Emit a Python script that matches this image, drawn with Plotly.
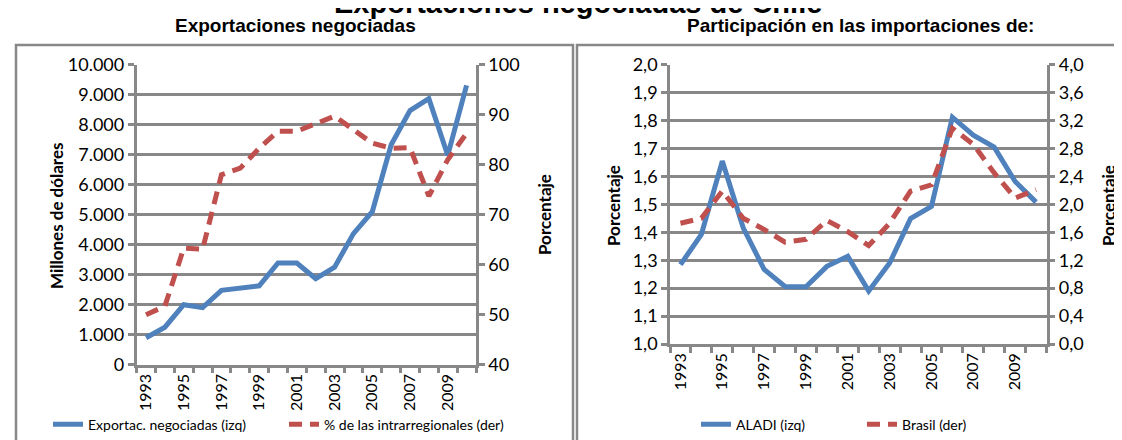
import plotly.graph_objects as go

years = list(range(1993, 2011))

# Left panel
exportaciones = [900, 1250, 2000, 1900, 2480, 2570, 2630, 3390, 3390, 2870,
                 3250, 4370, 5100, 7330, 8470, 8870, 6980, 9310]
pct_intra = [50.0, 51.7, 63.3, 63.1, 78.0, 79.3, 83.3, 86.7, 86.7, 88.3,
             89.7, 87.0, 84.3, 83.3, 83.4, 73.7, 81.0, 86.3]

# Right panel
aladi = [1.284, 1.392, 1.655, 1.416, 1.267, 1.206, 1.205, 1.278, 1.314, 1.190,
         1.290, 1.449, 1.493, 1.812, 1.748, 1.705, 1.582, 1.508]
brasil = [1.73, 1.80, 2.19, 1.80, 1.64, 1.46, 1.50, 1.77, 1.61, 1.41,
          1.73, 2.19, 2.28, 3.09, 2.86, 2.45, 2.09, 2.21]

W, H = 1122, 440
BLUE = "#4F81BD"
RED = "#C0504D"
GRID = "#888888"
SANS = "Lato, Open Sans, Liberation Sans, sans-serif"
ARIAL = "Liberation Sans, Arial, sans-serif"
YTICKFONT = dict(family=SANS, size=18, color="#000")
XTICKFONT = dict(family=SANS, size=16, color="#000")
LEGFONT = dict(family=SANS, size=14, color="#000")
AXTITLEFONT = dict(family=SANS, size=17, color="#000")

def px_x(p):
    return p / W

def px_y(p):
    return 1 - p / H

fig = go.Figure()

fig.add_trace(go.Scatter(x=years, y=exportaciones, name="Exportac. negociadas (izq)",
                         mode="lines", line=dict(color=BLUE, width=5),
                         xaxis="x", yaxis="y", legend="legend"))
fig.add_trace(go.Scatter(x=years, y=pct_intra, name="% de las intrarregionales (der)",
                         mode="lines", line=dict(color=RED, width=5, dash="13px,8px"),
                         xaxis="x", yaxis="y2", legend="legend"))
fig.add_trace(go.Scatter(x=years, y=aladi, name="ALADI (izq)",
                         mode="lines", line=dict(color=BLUE, width=5),
                         xaxis="x2", yaxis="y3", legend="legend2"))
fig.add_trace(go.Scatter(x=years, y=brasil, name="Brasil (der)",
                         mode="lines", line=dict(color=RED, width=5, dash="13px,8px"),
                         xaxis="x2", yaxis="y4", legend="legend2"))

boundaries = [y - 0.5 for y in years] + [years[-1] + 0.5]
xrange = [years[0] - 0.5, years[-1] + 0.5]
label_years = years[::2]
label_text = [str(y) for y in label_years]

def xaxis_cfg(domain, anchor):
    return dict(domain=domain, anchor=anchor, range=xrange, automargin=False,
                tickmode="array", tickvals=label_years, ticktext=label_text,
                tickangle=-90, ticks="", showgrid=False, zeroline=False,
                showline=True, linecolor=GRID, linewidth=2.5,
                tickfont=XTICKFONT,
                minor=dict(tickmode="array", tickvals=boundaries, ticks="outside",
                           ticklen=6, tickwidth=2.5, tickcolor=GRID, showgrid=False))

def yaxis_cfg(domain, anchor, rng, dtick, fmt, side="left", grid=True):
    return dict(domain=domain, anchor=anchor, range=rng, dtick=dtick, tick0=rng[0],
                automargin=False,
                tickformat=fmt, side=side, showgrid=grid, gridcolor=GRID, gridwidth=2.5,
                zeroline=False, showline=True, linecolor=GRID, linewidth=2.5,
                ticks="outside", ticklen=6, tickwidth=2.5, tickcolor=GRID,
                tickfont=YTICKFONT)

ldom_x = [px_x(128.6), px_x(468)]
ldom_y = [px_y(356.7), px_y(56.7)]
rdom_x = [px_x(662), px_x(1038.5)]
rdom_y = [px_y(336), px_y(56.7)]

def vtitle(text, xpx, ypx):
    return dict(text="<b>" + text + "</b>", xref="paper", yref="paper",
                x=px_x(xpx), y=px_y(ypx), xanchor="center", yanchor="middle",
                textangle=-90, showarrow=False, font=AXTITLEFONT)

layout = dict(
    width=W, height=H,
    margin=dict(l=0, r=0, t=0, b=0, autoexpand=False),
    paper_bgcolor="white", plot_bgcolor="white",
    separators=",.",
    showlegend=True,
    xaxis=xaxis_cfg(ldom_x, "y"),
    yaxis=yaxis_cfg(ldom_y, "x", [0, 10000], 1000, ",d"),
    yaxis2=dict(yaxis_cfg(ldom_y, "x", [40, 100], 10, "d", side="right", grid=False),
                overlaying="y"),
    xaxis2=xaxis_cfg(rdom_x, "y3"),
    yaxis3=yaxis_cfg(rdom_y, "x2", [1.0, 2.0], 0.1, ".1f"),
    yaxis4=dict(yaxis_cfg(rdom_y, "x2", [0.0, 4.0], 0.4, ".1f", side="right", grid=False),
                overlaying="y3"),
    legend=dict(orientation="h", x=px_x(40), y=px_y(416.7), xanchor="left", yanchor="middle",
                font=LEGFONT, bgcolor="rgba(0,0,0,0)", entrywidth=191, entrywidthmode="pixels"),
    legend2=dict(orientation="h", x=px_x(688), y=px_y(416.7), xanchor="left", yanchor="middle",
                 font=LEGFONT, bgcolor="rgba(0,0,0,0)", entrywidth=121, entrywidthmode="pixels"),
    shapes=[
        dict(type="rect", xref="paper", yref="paper", x0=px_x(8), x1=px_x(565),
             y0=px_y(445), y1=px_y(37), line=dict(color=GRID, width=2.5)),
        dict(type="rect", xref="paper", yref="paper", x0=px_x(569), x1=px_x(1130),
             y0=px_y(445), y1=px_y(37), line=dict(color=GRID, width=2.5)),
    ],
    annotations=[
        dict(text="<b>Exportaciones negociadas de Chile</b>", xref="paper", yref="paper",
             x=px_x(570), y=px_y(12), xanchor="center", yanchor="bottom", showarrow=False,
             borderpad=0, font=dict(family=ARIAL, size=29, color="#000")),
        dict(text="<b>Exportaciones negociadas</b>", xref="paper", yref="paper",
             x=px_x(287), y=px_y(29), xanchor="center", yanchor="bottom", showarrow=False,
             borderpad=0, font=dict(family=ARIAL, size=19, color="#000")),
        dict(text="<b>Participación en las importaciones de:</b>", xref="paper", yref="paper",
             x=px_x(852), y=px_y(29), xanchor="center", yanchor="bottom", showarrow=False,
             borderpad=0, font=dict(family=ARIAL, size=19, color="#000")),
        vtitle("Millones de dólares", 49, 208),
        vtitle("Porcentaje", 536, 207),
        vtitle("Porcentaje", 606, 198),
        vtitle("Porcentaje", 1101, 198),
    ],
)

fig.update_layout(**layout)
fig.write_html("out.html")
